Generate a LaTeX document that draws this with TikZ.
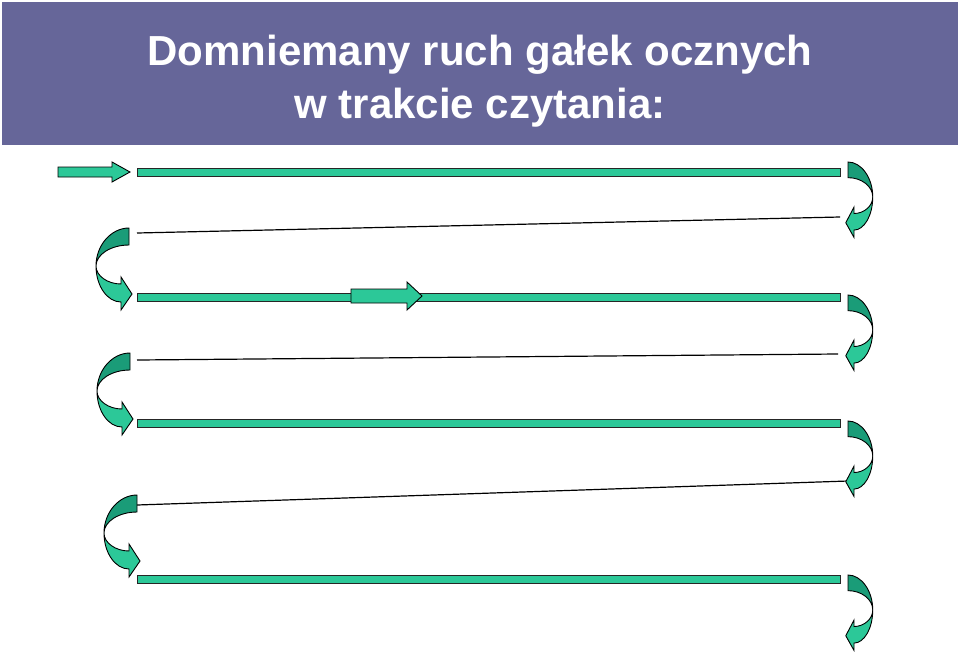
\documentclass[tikz,border=0pt]{standalone}
\usepackage{fontspec}
\setmainfont{Liberation Sans}
\usepackage{xcolor}
\usetikzlibrary{calc}
\definecolor{slidebar}{HTML}{666699}
\definecolor{eyegreen}{HTML}{2CC898}
\definecolor{eyedark}{HTML}{1A9C78}

\begin{document}
\begin{tikzpicture}[x=1pt, y=-1pt]

        % styles for the title, the text lines and the eye jumps
        \tikzset{
            title/.style={text=white, inner sep=0pt,
                font=\fontsize{42}{50}\selectfont\bfseries},
            bar/.style={fill=eyegreen, draw=black!85, line width=0.8pt},
            blockarrow/.style={fill=eyegreen, draw=black, line width=0.9pt},
            scan/.style={draw=black, line width=1.2pt},
            pics/turnarrow/.style={code={
                \draw[fill=eyedark, line width=0.9pt]
                    (0,0) .. controls (-17.7,0) and (-33,17) .. (-33,38)
                    .. controls (-33,26.5) and (-18.2,17) .. (0,17) -- cycle;
                \draw[fill=eyegreen, line width=0.9pt, line join=miter]
                    (-33,38) .. controls (-33,47.9) and (-21.3,56) .. (-8,56)
                    -- (-8,49) -- (3,66) -- (-8,82) -- (-8,74)
                    .. controls (-21.8,74) and (-33,57.8) .. (-33,38) -- cycle;
            }}
        }

        \useasboundingbox (0,0) rectangle (960,651);

        % title
        \fill[slidebar] (2,2) rectangle (958,145);
        \node[title, anchor=base] (head1) at (480,65)
            {Domniemany ruch gałek ocznych};
        \node[title, anchor=base] (head2) at (480,118)
            {w trakcie czytania:};

        % lines of text being read
        \foreach \y in {172,297,423,579}
            \draw[bar] (137,\y-4) rectangle (840,\y+4);

        % start and a regression inside the second line
        \draw[blockarrow] (58,167) -- (112,167) -- (112,162) -- (130,172)
            -- (112,182) -- (112,177) -- (58,177) -- cycle;
        \draw[blockarrow] (351,289) -- (407,289) -- (407,282) -- (422,296)
            -- (407,310) -- (407,303) -- (351,303) -- cycle;

        % return sweeps
        \coordinate (s1) at (137,233);
        \coordinate (e1) at (840,217);
        \coordinate (s2) at (137,360);
        \coordinate (e2) at (838,354);
        \coordinate (s3) at (137,505);
        \coordinate (e3) at (848,481);
        \foreach\x in {1,..., 3}
            \draw[scan] (s\x) -- (e\x);

        % turns at the line ends
        \foreach \y [count=\i] in {162,295,421,575}
            \pic[xscale=-0.75, yscale=0.92] (R\i) at (848,\y) {turnarrow};
        \foreach \x/\y [count=\i] in {129/228,130/353,137/495}
            \pic (L\i) at (\x,\y) {turnarrow};

\end{tikzpicture}
\end{document}
